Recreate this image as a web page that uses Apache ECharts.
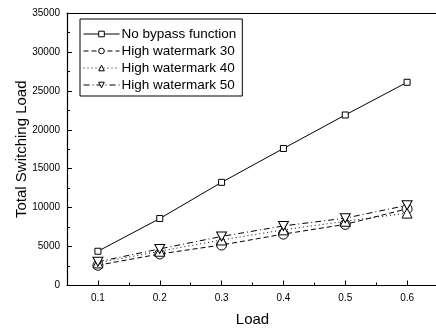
<!DOCTYPE html>
<html><head><meta charset="utf-8">
<script src="https://cdn.jsdelivr.net/npm/echarts@6/dist/echarts.min.js"></script>
<style>html,body{margin:0;padding:0;background:#fff}#c{width:436px;height:331px}</style>
</head><body><div id="c"></div>
<script>
var loads = [0.1, 0.2, 0.3, 0.4, 0.5, 0.6];
var noBypass = [4400, 8600, 13250, 17600, 21900, 26100];
var hw30 = [2600, 4050, 5200, 6600, 7850, 9850];
var hw40 = [2900, 4400, 5850, 7150, 8250, 9300];
var hw50 = [3050, 4700, 6300, 7650, 8650, 10300];
var names = ['No bypass function', 'High watermark 30', 'High watermark 40', 'High watermark 50'];
var yTicks = [0, 5000, 10000, 15000, 20000, 25000, 30000, 35000];
var xTicks = [0.1, 0.2, 0.3, 0.4, 0.5, 0.6];
var xMinorTicks = [0.15, 0.25, 0.35, 0.45, 0.55];

var font = 'Liberation Sans, Arial, sans-serif';
function pairs(v){ return loads.map(function(x,i){ return [x, v[i]]; }); }
var downTri = 'path://M0,0 L10,0 L5,9 Z';
function mk(name, data, symbol, size, dash){
  return {
    name: name, type: 'line', data: pairs(data), xAxisIndex: 0,
    symbol: symbol, symbolSize: size,
    itemStyle: {color: '#fff', borderColor: '#000', borderWidth: 1},
    lineStyle: {color: '#000', width: 1, type: dash},
    emphasis: {disabled: true}, z: 3
  };
}
var chart = echarts.init(document.getElementById('c'), null, {renderer: 'canvas'});
chart.setOption({
  animation: false,
  backgroundColor: '#fff',
  grid: {left: 67, right: -2, top: 13, bottom: 45.5, outerBoundsMode: 'none', containLabel: false, show: false},
  legend: {
    left: 80, top: 19, orient: 'vertical',
    data: names,
    itemWidth: 36, itemHeight: 7, itemGap: 3,
    padding: [8, 6, 4, 3],
    borderColor: '#000', borderWidth: 1,
    itemStyle: {color: '#fff', borderColor: '#000', borderWidth: 1},
    lineStyle: {width: 1, color: '#000'},
    textStyle: {fontFamily: font, fontSize: 13.5, color: '#000', padding: [0,0,0,-3]}
  },
  xAxis: [{
    type: 'value', min: 0.05, max: 0.65, interval: 0.05,
    name: 'Load', nameLocation: 'middle', nameGap: 27, nameMoveOverlap: false,
    nameTextStyle: {fontFamily: font, fontSize: 15, color: '#000'},
    axisLine: {lineStyle: {color: '#000', width: 1.2}},
    axisTick: {inside: true, length: 5, lineStyle: {color: '#000'}, customValues: xTicks},
    axisLabel: {fontFamily: font, fontSize: 10, color: '#000', margin: 8,
      customValues: xTicks,
      formatter: function(v){ return v.toFixed(1); }},
    splitLine: {show: false}
  }, {
    type: 'value', min: 0.05, max: 0.65, interval: 0.05, position: 'bottom',
    axisLine: {show: false},
    axisTick: {show: true, inside: true, length: 3, lineStyle: {color: '#000'}, customValues: xMinorTicks},
    axisLabel: {show: false},
    splitLine: {show: false}
  }, {
    type: 'value', min: 0.05, max: 0.65, interval: 0.05, position: 'top',
    axisLine: {show: true, lineStyle: {color: '#000', width: 1.2}},
    axisTick: {show: false},
    axisLabel: {show: false},
    splitLine: {show: false}
  }],
  yAxis: {
    type: 'value', min: 0, max: 35000, interval: 5000,
    name: 'Total Switching Load', nameLocation: 'middle', nameGap: 38, nameMoveOverlap: false,
    nameTextStyle: {fontFamily: font, fontSize: 15, color: '#000'},
    axisLine: {show: true, lineStyle: {color: '#000', width: 1.2}},
    axisTick: {show: true, inside: true, length: 5, lineStyle: {color: '#000'}},
    minorTick: {show: true, splitNumber: 2, length: 3, lineStyle: {color: '#000'}},
    axisLabel: {fontFamily: font, fontSize: 10, color: '#000', margin: 7,
      customValues: yTicks,
      formatter: function(v){ return String(v); }},
    splitLine: {show: false}
  },
  series: [
    mk(names[0], noBypass, 'rect', 6, 'solid'),
    mk(names[1], hw30, 'circle', 10, [5, 3]),
    mk(names[2], hw40, 'triangle', 10, [1, 3]),
    mk(names[3], hw50, downTri, [10, 9], [6, 3, 1, 3])
  ]
});
</script></body></html>
